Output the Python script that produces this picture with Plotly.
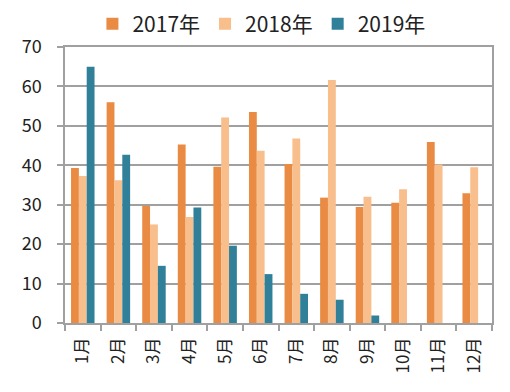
import plotly.graph_objects as go

months = ["1月", "2月", "3月", "4月", "5月", "6月", "7月", "8月", "9月", "10月", "11月", "12月"]
y2017 = [39.3, 56.0, 29.7, 45.3, 39.6, 53.5, 40.3, 31.8, 29.4, 30.5, 45.9, 32.9]
y2018 = [37.3, 36.2, 25.0, 26.9, 52.1, 43.7, 46.8, 61.6, 32.0, 33.9, 40.2, 39.5]
y2019 = [65.0, 42.7, 14.5, 29.3, 19.6, 12.4, 7.4, 5.9, 1.9, None, None, None]
series_names = ["2017年", "2018年", "2019年"]
colors = ["#EA8B43", "#F8BE8C", "#2F8098"]

font_family = "Noto Sans CJK SC, Noto Sans, sans-serif"

fig = go.Figure()
for name, vals, c in zip(series_names, [y2017, y2018, y2019], colors):
    fig.add_trace(go.Bar(x=months, y=vals, name=name, marker=dict(color=c, line=dict(width=0))))

fig.update_layout(
    width=502, height=384,
    margin=dict(l=57, r=18, t=39, b=69, autoexpand=False),
    paper_bgcolor="white", plot_bgcolor="white",
    barmode="group", bargap=0.34, bargroupgap=0,
    font=dict(family=font_family, color="#222222"),
    legend=dict(orientation="h", x=0.46, xanchor="center", y=1.083, yanchor="middle",
                font=dict(size=21, family=font_family, color="#222222"),
                itemwidth=30, tracegroupgap=0, bgcolor="rgba(0,0,0,0)"),
    showlegend=True,
)
fig.update_xaxes(
    type="category", tickangle=-90, tickfont=dict(size=17),
    showline=True, linecolor="#A0A0A0", linewidth=1.5, mirror=True,
    ticks="outside", ticklen=6, tickcolor="#A0A0A0", tickwidth=1.5,
    tickson="boundaries", showgrid=False, ticklabelstandoff=6,
)
fig.update_yaxes(
    range=[0, 70], dtick=10, tickfont=dict(size=18),
    showline=True, linecolor="#A0A0A0", linewidth=1.5, mirror=True,
    showgrid=True, gridcolor="#A0A0A0", gridwidth=1.5,
    ticks="outside", ticklen=6, tickcolor="#A0A0A0", tickwidth=1.5,
    zeroline=False, ticklabelstandoff=12,
)

fig.write_html("out.html")
